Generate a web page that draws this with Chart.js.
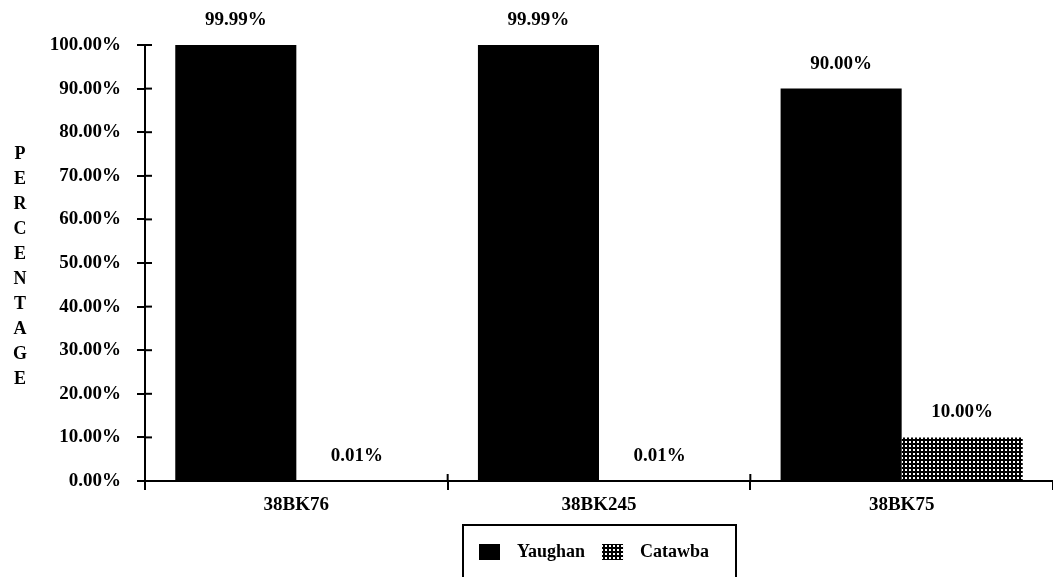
<!DOCTYPE html>
<html lang="en">
<head>
  <meta charset="UTF-8">
  <title>Vessel Type Percentages</title>
  <script src="https://cdn.jsdelivr.net/npm/chart.js"></script>
  <style>
    body { margin: 0; background: #fff; }
    #wrap { width: 1053px; height: 577px; }
  </style>
</head>
<body>
  <div id="wrap"><canvas id="sitesChart"></canvas></div>

  <script>
    // values
    const sites = ['38BK76', '38BK245', '38BK75'];
    const yaughan = [99.99, 99.99, 90.00];
    const catawba = [0.01, 0.01, 10.00];
    const yTitle = 'PERCENTAGE';

    const FONT = "'Liberation Serif', 'Times New Roman', serif";

    // black tile with white dots for the Catawba bars
    function dotPattern() {
      const c = document.createElement('canvas');
      c.width = 4; c.height = 4;
      const g = c.getContext('2d');
      g.fillStyle = '#000';
      g.fillRect(0, 0, 4, 4);
      g.fillStyle = '#fff';
      g.fillRect(1, 1, 2, 2);
      return g.createPattern(c, 'repeat');
    }
    const dots = dotPattern();

    // value labels, inner tick marks, stacked axis title, boxed legend
    const extras = {
      id: 'extras',
      afterDraw(chart) {
        const ctx = chart.ctx;
        const area = chart.chartArea;
        const ys = chart.scales.y;
        ctx.save();

        // ticks on the inside of the axes
        ctx.strokeStyle = '#000';
        ctx.lineWidth = 2;
        ys.ticks.forEach((t, i) => {
          const y = ys.getPixelForTick(i);
          ctx.beginPath(); ctx.moveTo(area.left, y); ctx.lineTo(area.left + 7, y); ctx.stroke();
        });
        const cw = (area.right - area.left) / sites.length;
        for (let i = 1; i < sites.length; i++) {
          const x = area.left + cw * i;
          ctx.beginPath(); ctx.moveTo(x, area.bottom); ctx.lineTo(x, area.bottom - 7); ctx.stroke();
        }

        // labels above bars
        ctx.fillStyle = '#000';
        ctx.font = 'bold 19px ' + FONT;
        ctx.textAlign = 'center';
        ctx.textBaseline = 'middle';
        chart.data.datasets.forEach((ds, di) => {
          chart.getDatasetMeta(di).data.forEach((bar, i) => {
            ctx.fillText(ds.data[i].toFixed(2) + '%', bar.x, bar.y - 25);
          });
        });

        // vertical letters of the y title
        ctx.font = 'bold 18px ' + FONT;
        yTitle.split('').forEach((ch, i) => {
          ctx.fillText(ch, 20, 154 + i * 25);
        });

        // legend with a frame
        const lx = 463, ly = 525, lw = 273, lh = 60;
        ctx.lineWidth = 2;
        ctx.strokeRect(lx, ly, lw, lh);
        ctx.font = 'bold 18px ' + FONT;
        ctx.textAlign = 'left';
        let x = lx + 16;
        const cy = ly + 27;
        chart.data.datasets.forEach(ds => {
          ctx.fillStyle = ds.backgroundColor;
          ctx.fillRect(x, cy - 8, 21, 16);
          ctx.fillStyle = '#000';
          ctx.fillText(ds.label, x + 38, cy);
          x += 38 + ctx.measureText(ds.label).width + 17;
        });

        ctx.restore();
      }
    };

    new Chart(document.getElementById('sitesChart'), {
      type: 'bar',
      data: {
        labels: sites,
        datasets: [
          { label: 'Yaughan', data: yaughan, backgroundColor: '#000' },
          { label: 'Catawba', data: catawba, backgroundColor: dots }
        ]
      },
      options: {
        responsive: true,
        maintainAspectRatio: false,
        animation: false,
        layout: { padding: { top: 45, left: 0, right: 0, bottom: 0 } },
        datasets: { bar: { categoryPercentage: 0.8, barPercentage: 1.0 } },
        plugins: {
          legend: { display: false },
          tooltip: { enabled: false }
        },
        scales: {
          x: {
            grid: { offset: true, drawOnChartArea: false, color: '#000', lineWidth: 2, tickLength: 9 },
            border: { color: '#000', width: 2 },
            ticks: { color: '#000', padding: 4, font: { family: FONT, size: 19, weight: 'bold' } },
            afterFit(scale) { scale.height = 96; }
          },
          y: {
            min: 0,
            max: 100,
            ticks: {
              stepSize: 10,
              color: '#000',
              padding: 16,
              font: { family: FONT, size: 19, weight: 'bold' },
              callback: v => v.toFixed(2) + '%'
            },
            grid: { drawOnChartArea: false, color: '#000', lineWidth: 2, tickLength: 8 },
            border: { color: '#000', width: 2 },
            afterFit(scale) { scale.width = 145; }
          }
        }
      },
      plugins: [extras]
    });
  </script>
</body>
</html>
